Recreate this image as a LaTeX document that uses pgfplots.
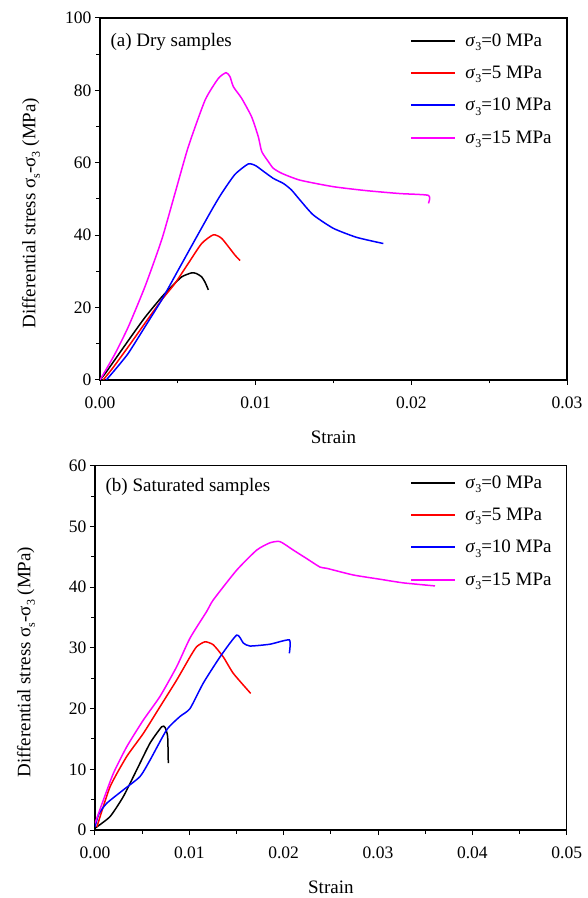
\documentclass[border=0pt]{standalone}
\usepackage{pgfplots}
\pgfplotsset{compat=1.18}
\usepackage{fontspec}
\setmainfont{Liberation Serif}
\definecolor{mag}{RGB}{255,0,255}
\definecolor{rd}{RGB}{255,0,0}
\definecolor{bl}{RGB}{0,0,255}
\newcommand{\sub}[1]{\raisebox{-0.5ex}{\fontsize{12}{12}\selectfont #1}}
\newcommand{\lsig}{\textit{σ}\sub{3}}
\pgfplotsset{
  myax/.style={
    scale only axis,
    axis line style={line width=1.1pt},
    tick pos=left, tick align=outside,
    major tick length=5pt, minor tick length=3.5pt,
    every tick/.style={line width=1pt, black},
    minor x tick num=1, minor y tick num=1,
    scaled x ticks=false,
    /pgf/number format/assume math mode=true,
    xticklabel style={yshift=-8pt, /pgf/number format/.cd, fixed, fixed zerofill, precision=2},
    yticklabel style={/pgf/number format/.cd, fixed, precision=0},
    tick label style={font=\fontsize{17.5}{20}\selectfont},
    label style={font=\fontsize{19}{22}\selectfont},
    xlabel={Strain},
    xlabel style={at={([yshift=-57pt]axis description cs:0.5,0)}, anchor=center},
    ylabel={Differential stress σ\sub{s}-σ\sub{3} (MPa)},
    ylabel style={at={([xshift=-69pt]axis description cs:0,0.461)}, anchor=center, rotate=0},
    legend cell align=left,
    legend image code/.code={\draw[#1, line width=2pt, line cap=butt] (0pt,0pt) -- (44pt,0pt);},
    legend style={draw=none, fill=none, anchor=north west, inner sep=0pt,
      font=\fontsize{19}{22}\selectfont, row sep=14.3pt, nodes={inner sep=2pt},
      /tikz/every odd column/.append style={column sep=7pt}},
    every axis plot/.append style={line width=1.5pt, no markers, smooth, tension=0.35},
  }
}
\begin{document}
\begin{tikzpicture}
\useasboundingbox (0,0) rectangle (588pt,898pt);
% ---------- (a) Dry samples ----------
\begin{axis}[myax, at={(100pt,518pt)}, anchor=south west,
  width=467pt, height=362pt,
  xmin=0, xmax=0.03, ymin=0, ymax=100,
  xtick={0,0.01,0.02,0.03}, ytick={0,20,40,60,80,100},
  legend style={at={(axis description cs:0.664,0.963)}}]
\addplot[black] coordinates {
(0,0) (0.0004,2.2) (0.00182,10.9) (0.00289,17.3) (0.00396,22.9)
(0.0046,25.8) (0.00525,28.5) (0.00589,29.6) (0.0062,29.4)
(0.00653,28.5) (0.00675,27.0) (0.00696,24.9)};
\addlegendentry{\lsig=0 MPa}
\addplot[rd] coordinates {
(0.0002,0) (0.0008,3.2) (0.00182,9.2) (0.00289,15.7) (0.00396,22.1) (0.00482,26.7)
(0.00567,32.2) (0.00653,37.7) (0.00728,40.1) (0.00782,39.1) (0.00867,34.5) (0.009,33)};
\addlegendentry{\lsig=5 MPa}
\addplot[bl] coordinates {
(0.0004,0) (0.0010,3.0) (0.00182,7.4) (0.00289,14.7) (0.00396,22.1) (0.00503,30.4)
(0.0061,38.7) (0.00718,47) (0.00782,51.6) (0.00867,56.8) (0.00953,59.7) (0.0100,59.2)
(0.01039,58) (0.01113,55.7) (0.01178,54.3) (0.0123,52.5) (0.01285,49.7)
(0.0137,45.6) (0.01499,41.9) (0.01649,39.4) (0.0182,37.7)};
\addlegendentry{\lsig=10 MPa}
\addplot[mag] coordinates {
(0,0) (0.00096,7.2) (0.00182,14.7) (0.00289,25.8) (0.00396,38.7) (0.00482,51.6)
(0.00567,64.4) (0.00675,77.3) (0.0076,83.3) (0.0081,84.9) (0.00835,83.8)
(0.00857,81) (0.0091,77.8) (0.00974,72.7) (0.01017,67.2) (0.01039,63.1)
(0.01082,60.3) (0.01113,58.5) (0.01167,57.1) (0.01285,55.2) (0.01499,53.4)
(0.01713,52.3) (0.01927,51.5) (0.0211,51.0) (0.0211,48.8)};
\addlegendentry{\lsig=15 MPa}
\node[anchor=west, font=\fontsize{19}{22}\selectfont] at (axis description cs:0.015,0.934) {(a) Dry samples};
\end{axis}
% ---------- (b) Saturated samples ----------
\begin{axis}[myax, at={(95pt,68pt)}, anchor=south west,
  width=471.7pt, height=364.3pt,
  xmin=0, xmax=0.05, ymin=0, ymax=60,
  xtick={0,0.01,0.02,0.03,0.04,0.05}, ytick={0,10,20,30,40,50,60},
  legend style={at={(axis description cs:0.668,0.979)}}]
\addplot[black] coordinates {
(0,0.3) (0.00159,2.2) (0.003,5.5) (0.00442,9.9) (0.00583,14.3) (0.00707,17)
(0.00742,16.9) (0.0077,15.4) (0.00777,11)};
\addlegendentry{\lsig=0 MPa}
\addplot[rd] coordinates {
(0.0002,0.5) (0.00159,7.1) (0.00336,12.1) (0.00512,15.9) (0.00689,20.3)
(0.00866,24.7) (0.01007,28.5) (0.01078,30.2) (0.01166,31) (0.01254,30.5)
(0.0136,28.5) (0.01466,25.8) (0.0165,22.5)};
\addlegendentry{\lsig=5 MPa}
\addplot[bl] coordinates {
(0,0.5) (0.0004,2.6) (0.00124,4.4) (0.003,6.6) (0.00477,8.8) (0.00583,11.5)
(0.0076,16.5) (0.00901,18.7) (0.01007,20) (0.01148,24.2) (0.01325,28.5)
(0.01502,32.1) (0.01572,30.8) (0.01643,30.3) (0.01855,30.6) (0.0206,31.3) (0.0206,29.1)};
\addlegendentry{\lsig=10 MPa}
\addplot[mag] coordinates {
(0,1.1) (0.00088,4.9) (0.00194,9.3) (0.00336,13.7) (0.00512,18.1) (0.00689,22)
(0.00866,26.9) (0.01007,31.6) (0.01184,36) (0.01254,37.9) (0.01502,42.8)
(0.01714,46.1) (0.01855,47.3) (0.01961,47.5) (0.02102,46.1) (0.02244,44.7)
(0.02385,43.3) (0.02456,43.1) (0.02738,42) (0.03021,41.3) (0.03269,40.7) (0.03604,40.2)};
\addlegendentry{\lsig=15 MPa}
\node[anchor=west, font=\fontsize{19}{22}\selectfont] at (axis description cs:0.015,0.9415) {(b) Saturated samples};
\end{axis}
\end{tikzpicture}
\end{document}
